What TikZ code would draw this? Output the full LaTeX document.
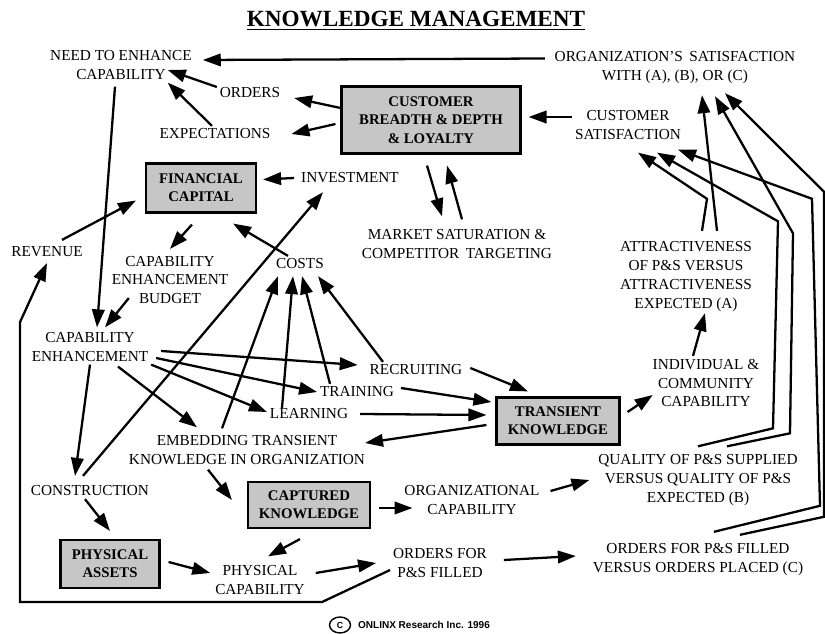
\documentclass[tikz,border=0pt]{standalone}
\usepackage{fontspec}
\setmainfont{Liberation Serif}
\setsansfont{Liberation Sans}
\usepackage{tikz}
\usetikzlibrary{shapes.geometric, arrows.meta, positioning}

\begin{document}
\begin{tikzpicture}[
  on grid,
  txt/.style={align=center, inner sep=1.5pt, font=\fontsize{8.7}{10.8}\selectfont},
  stock/.style={rectangle, draw, line width=1.2pt, fill=gray!45, align=center, inner sep=1pt, font=\fontsize{8.4}{10.4}\selectfont\bfseries},
  arrow/.style={-{Triangle[length=3.6mm, width=2.5mm]}, line width=1.3pt},
  title/.style={font=\fontsize{13.2}{15}\selectfont\bfseries}
]
  \useasboundingbox (0,0) rectangle (16.5,-12.68);

  % top row
  \node[txt] (need) at (2.42,-1.30) {NEED TO ENHANCE\\CAPABILITY};
  \node[txt, below right=0.56cm and 2.58cm of need] (orders) {ORDERS};
  \node[txt, below left=0.82cm and 0.7cm of orders] (expect) {EXPECTATIONS};
  \node[stock, minimum width=3.58cm, minimum height=1.34cm, below right=0.54cm and 3.62cm of orders] (cust) {CUSTOMER\\BREADTH \& DEPTH\\\& LOYALTY};
  \node[title, above left=1.98cm and 0.3cm of cust] (head) {\underline{KNOWLEDGE MANAGEMENT}};
  \node[txt, above right=1.04cm and 4.88cm of cust] (orgsat) {ORGANIZATION'S\, SATISFACTION\\WITH (A), (B), OR (C)};
  \node[txt, below right=0.1cm and 3.94cm of cust] (custsat) {CUSTOMER\\SATISFACTION};
  \node[stock, minimum width=2.2cm, minimum height=0.98cm, below left=1.08cm and 0.28cm of expect] (fin) {FINANCIAL\\CAPITAL};
  \node[txt, above right=0.2cm and 2.98cm of fin] (invest) {INVESTMENT};
  \node[txt, below right=2.48cm and 0.52cm of cust] (market) {MARKET SATURATION \&\\COMPETITOR\, TARGETING};

  % middle
  \node[txt, below left=1.28cm and 3.08cm of fin] (revenue) {REVENUE};
  \node[txt, below left=1.84cm and 0.62cm of fin] (budget) {CAPABILITY\\ENHANCEMENT\\BUDGET};
  \node[txt, below right=1.52cm and 1.98cm of fin] (costs) {COSTS};
  \node[txt, below right=3.04cm and 1.16cm of custsat] (attract) {ATTRACTIVENESS\\OF P\&S VERSUS\\ATTRACTIVENESS\\EXPECTED (A)};
  \node[txt, below left=1.34cm and 1.6cm of budget] (capenh) {CAPABILITY\\ENHANCEMENT};
  \node[txt, below right=2.12cm and 2.32cm of costs] (recruit) {RECRUITING};
  \node[txt, below left=0.44cm and 1.18cm of recruit] (training) {TRAINING};
  \node[txt, below left=0.44cm and 0.96cm of training] (learning) {LEARNING};
  \node[txt, below right=2.12cm and 0.4cm of attract] (indiv) {INDIVIDUAL \&\\COMMUNITY\\CAPABILITY};
  \node[stock, minimum width=2.46cm, minimum height=0.94cm, below right=1.02cm and 2.84cm of recruit] (trans) {TRANSIENT\\KNOWLEDGE};
  \node[txt, below left=0.72cm and 1.24cm of learning] (embed) {EMBEDDING TRANSIENT\\KNOWLEDGE IN ORGANIZATION};

  % bottom
  \node[txt, below=2.88cm of capenh] (constr) {CONSTRUCTION};
  \node[stock, minimum width=2.44cm, minimum height=0.92cm, below right=1.1cm and 1.24cm of embed] (capt) {CAPTURED\\KNOWLEDGE};
  \node[txt, above right=0.1cm and 3.26cm of capt] (orgcap) {ORGANIZATIONAL\\CAPABILITY};
  \node[txt, below left=1.94cm and 0.16cm of indiv] (quality) {QUALITY OF P\&S SUPPLIED\\VERSUS QUALITY OF P\&S\\EXPECTED (B)};
  \node[stock, minimum width=1.98cm, minimum height=0.96cm, below right=1.46cm and 0.4cm of constr] (phys) {PHYSICAL\\ASSETS};
  \node[txt, below right=0.32cm and 3.0cm of phys] (physcap) {PHYSICAL\\CAPABILITY};
  \node[txt, above right=0.34cm and 3.6cm of physcap] (filled) {ORDERS FOR\\P\&S FILLED};
  \node[txt, below=1.6cm of quality] (ordvs) {ORDERS FOR P\&S FILLED\\VERSUS ORDERS PLACED (C)};

  % copyright line
  \node[ellipse, draw, thick, inner sep=0pt, minimum width=0.42cm, minimum height=0.32cm, font=\sffamily\bfseries\fontsize{5}{6}\selectfont, below right=0.9cm and 1.6cm of physcap] (cmark) {C};
  \node[font=\sffamily\bfseries\fontsize{5.7}{6.5}\selectfont, right=1.68cm of cmark] (copy) {ONLINX Research Inc. 1996};

  % customer side
  \draw[arrow] ([xshift=-0.14cm,yshift=0.19cm]orgsat.west) -- ([xshift=0.16cm,yshift=0.1cm]need.east);
  \draw[arrow] ([yshift=0.24cm]cust.west) -- ([xshift=0.22cm,yshift=-0.1cm]orders.east);
  \draw[arrow] ([xshift=-0.1cm,yshift=-0.08cm]cust.west) -- ([xshift=0.36cm]expect.east);
  \draw[arrow] ([yshift=0.12cm]orders.west) -- ([xshift=-0.54cm,yshift=-0.1cm]need.east);
  \draw[arrow] ([xshift=-0.06cm]expect.north) -- ([xshift=-0.54cm]need.south east);
  \draw[arrow] ([yshift=0.16cm]custsat.west) -- ([xshift=0.14cm,yshift=0.06cm]cust.east);
  \draw[arrow] ([xshift=-0.08cm,yshift=-0.22cm]cust.south) -- ([xshift=-0.3cm,yshift=0.2cm]market.north);
  \draw[arrow] ([xshift=0.1cm,yshift=0.14cm]market.north) -- ([xshift=0.32cm,yshift=-0.22cm]cust.south);

  % money
  \draw[arrow] ([xshift=-0.08cm]invest.west) -- ([xshift=0.12cm,yshift=0.17cm]fin.east);
  \draw[arrow] ([xshift=0.3cm,yshift=0.08cm]revenue.north) -- ([xshift=-0.18cm,yshift=0.26cm]fin.south west);
  \draw[arrow] ([xshift=-0.18cm,yshift=-0.22cm]fin.south) -- ([yshift=0.08cm]budget.north);
  \draw[arrow] ([xshift=-0.24cm]costs.north) -- ([xshift=-0.48cm,yshift=-0.2cm]fin.south east);
  \draw[arrow] ([xshift=-0.12cm,yshift=-0.08cm]need.south) -- ([xshift=0.14cm,yshift=0.04cm]capenh.north);
  \draw[arrow] ([xshift=0.4cm,yshift=0.18cm]budget.south west) -- ([xshift=0.3cm,yshift=0.04cm]capenh.north);
  \draw[arrow] ([xshift=-0.14cm,yshift=0.14cm]constr.north) -- ([xshift=-0.54cm,yshift=-0.12cm]invest.south);

  % capability enhancement fan
  \draw[arrow] ([xshift=0.2cm,yshift=-0.08cm]capenh.east) -- ([xshift=-0.18cm,yshift=0.1cm]recruit.west);
  \draw[arrow] ([xshift=0.1cm,yshift=-0.22cm]capenh.east) -- (training.west);
  \draw[arrow] (capenh.south east) -- ([yshift=0.04cm]learning.west);
  \draw[arrow] ([xshift=0.56cm,yshift=-0.04cm]capenh.south) -- ([xshift=-1.0cm,yshift=0.1cm]embed.north);
  \draw[arrow] (capenh.south) -- ([xshift=-0.3cm,yshift=0.14cm]constr.north);

  % costs
  \draw[arrow] ([xshift=-0.5cm,yshift=0.08cm]embed.north) -- ([xshift=-0.44cm,yshift=-0.08cm]costs.south);
  \draw[arrow] ([xshift=-0.54cm,yshift=-0.04cm]learning.north) -- ([xshift=-0.14cm,yshift=-0.08cm]costs.south);
  \draw[arrow] ([xshift=-0.54cm]training.north) -- ([xshift=0.04cm,yshift=-0.08cm]costs.south);
  \draw[arrow] ([xshift=-0.66cm]recruit.north) -- ([xshift=0.36cm,yshift=-0.08cm]costs.south);

  % transient knowledge
  \draw[arrow] ([xshift=0.1cm,yshift=0.04cm]recruit.east) -- ([xshift=-0.6cm,yshift=0.1cm]trans.north);
  \draw[arrow] ([xshift=0.08cm,yshift=0.08cm]training.east) -- ([xshift=-0.08cm,yshift=0.38cm]trans.west);
  \draw[arrow] ([xshift=0.18cm]learning.east) -- ([xshift=-0.18cm,yshift=0.12cm]trans.west);
  \draw[arrow] ([xshift=-0.18cm,yshift=-0.08cm]trans.west) -- ([xshift=-0.06cm,yshift=0.14cm]embed.east);
  \draw[arrow] ([xshift=0.14cm,yshift=0.18cm]trans.east) -- ([xshift=0.06cm,yshift=-0.24cm]indiv.west);
  \draw[arrow] ([xshift=-0.26cm]indiv.north) -- ([xshift=0.38cm,yshift=0.04cm]attract.south);

  % feedback to satisfaction
  \draw[arrow] ([xshift=0.32cm,yshift=0.16cm]attract.north) -- ++(0.1,0.64) -- ([xshift=0.2cm,yshift=-0.2cm]custsat.south);
  \draw[arrow] ([xshift=0.62cm,yshift=0.16cm]attract.north) -- ([xshift=0.54cm,yshift=-0.16cm]orgsat.south);
  \draw[arrow] ([yshift=0.1cm]quality.north) -- ++(1.5,0.36) -- ++(0.1,4.14) -- ([xshift=0.58cm,yshift=-0.2cm]custsat.south);
  \draw[arrow] ([xshift=0.58cm,yshift=0.1cm]quality.north) -- ++(1.26,0.26) -- ++(0.06,4.0) -- ([xshift=0.8cm,yshift=-0.18cm]orgsat.south);
  \draw[arrow] ([xshift=0.32cm,yshift=0.18cm]ordvs.north) -- ++(2.12,0.52) -- ++(-0.16,6.14) -- ([xshift=1.0cm,yshift=-0.14cm]custsat.south);
  \draw[arrow] ([xshift=0.84cm,yshift=0.12cm]ordvs.north) -- ++(1.68,0.36) -- ++(0,6.5) -- ([xshift=1.0cm,yshift=-0.12cm]orgsat.south);

  % captured knowledge and physical side
  \draw[arrow] ([xshift=-0.78cm,yshift=-0.04cm]embed.south) -- ([xshift=-0.3cm,yshift=0.1cm]capt.west);
  \draw[arrow] ([xshift=-0.1cm]constr.south) -- ([yshift=0.16cm]phys.north);
  \draw[arrow] ([xshift=0.16cm,yshift=-0.06cm]capt.east) -- ([xshift=0.22cm,yshift=-0.16cm]orgcap.west);
  \draw[arrow] ([xshift=0.16cm,yshift=0.18cm]orgcap.east) -- ([xshift=-0.12cm]quality.west);
  \draw[arrow] ([xshift=0.16cm,yshift=0.04cm]phys.east) -- ([xshift=-0.04cm,yshift=0.14cm]physcap.west);
  \draw[arrow] ([xshift=-0.18cm,yshift=-0.2cm]capt.south) -- ([xshift=0.16cm,yshift=0.12cm]physcap.north);
  \draw[arrow] ([xshift=0.16cm,yshift=0.14cm]physcap.east) -- ([xshift=-0.28cm]filled.west);
  \draw[arrow] ([xshift=0.28cm,yshift=0.06cm]filled.east) -- ([xshift=-0.28cm,yshift=0.08cm]ordvs.west);
  \draw[arrow] ([yshift=-0.14cm]filled.west) -- ++(-1.36,-0.64) -- ++(-6.04,0) -- ++(0,5.6) -- ([yshift=-0.06cm]revenue.south);
\end{tikzpicture}
\end{document}
